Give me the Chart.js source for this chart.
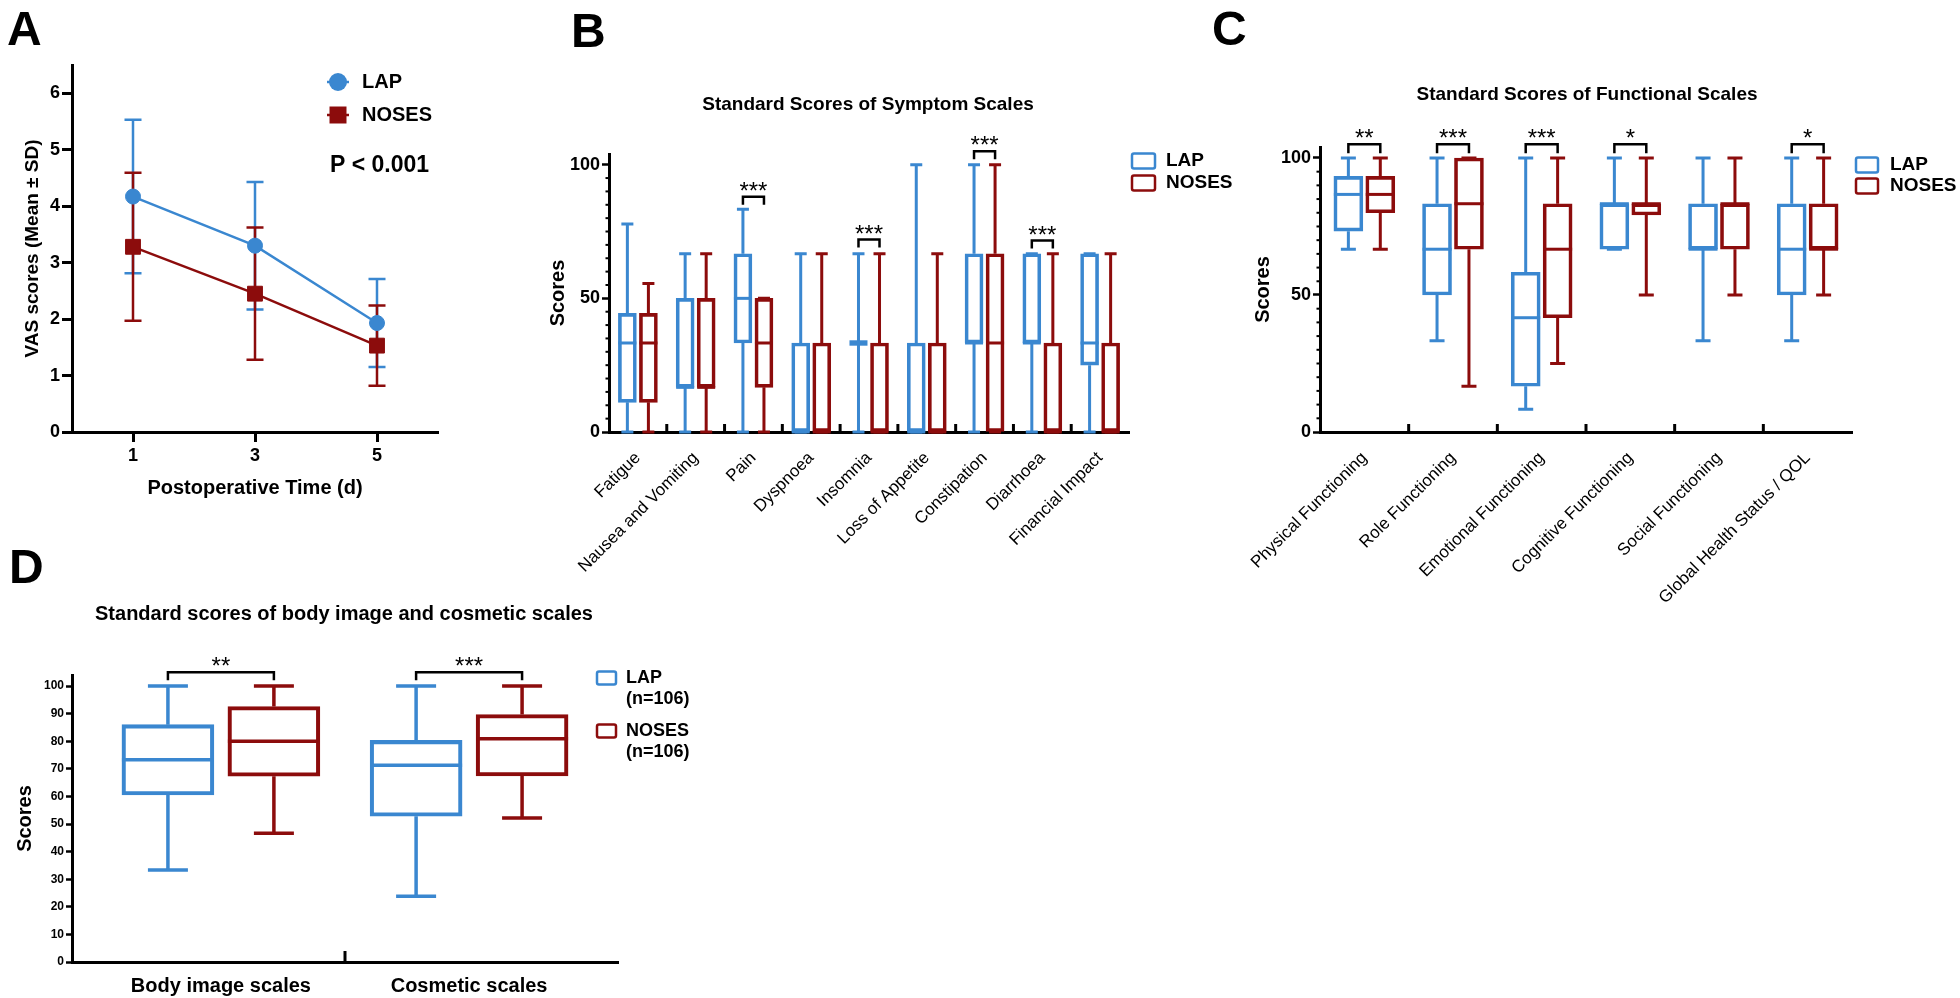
<!DOCTYPE html>
<html>
<head>
<meta charset="utf-8">
<script src="https://cdn.jsdelivr.net/npm/chart.js@4.4.1/dist/chart.umd.min.js"></script>
<style>
  html, body { margin: 0; padding: 0; background: #fff; }
  body { width: 1960px; height: 998px; position: relative; overflow: hidden; }
  canvas { position: absolute; }
</style>
</head>
<body>
<canvas id="chartA" width="480" height="510" style="left:0;top:0"></canvas>
<canvas id="chartB" width="800" height="640" style="left:480px;top:0"></canvas>
<canvas id="chartC" width="760" height="640" style="left:1200px;top:0"></canvas>
<canvas id="chartD" width="720" height="478" style="left:0;top:520px"></canvas>
<script>
// ---- Panel A: VAS scores (mean +/- SD) ----
const days = [1, 3, 5];
const lapVasMean = [4.17, 3.30, 1.93];
const lapVasSD = [1.36, 1.13, 0.78];
const nosesVasMean = [3.28, 2.45, 1.53];
const nosesVasSD = [1.31, 1.17, 0.71];

// ---- Panel B: symptom scales ----
const symptomScales = ['Fatigue', 'Nausea and Vomiting', 'Pain', 'Dyspnoea', 'Insomnia',
  'Loss of Appetite', 'Constipation', 'Diarrhoea', 'Financial Impact'];
const symLapMin = [0, 0, 0, 0, 0, 0, 0, 0, 0];
const symLapQ1 = [11.1, 16.7, 33.3, 0, 33.3, 0, 33.3, 33.3, 25];
const symLapMed = [33.3, 16.7, 50, 0, 33.3, 0, 33.3, 33.3, 33.3];
const symLapQ3 = [44.4, 50, 66.7, 33.3, 33.3, 33.3, 66.7, 66.7, 66.7];
const symLapMax = [77.8, 66.7, 83.3, 66.7, 66.7, 100, 100, 66.7, 66.7];
const symNosMin = [0, 0, 0, 0, 0, 0, 0, 0, 0];
const symNosQ1 = [11.1, 16.7, 16.7, 0, 0, 0, 0, 0, 0];
const symNosMed = [33.3, 16.7, 33.3, 0, 0, 0, 33.3, 0, 0];
const symNosQ3 = [44.4, 50, 50, 33.3, 33.3, 33.3, 66.7, 33.3, 33.3];
const symNosMax = [55.6, 66.7, 50, 66.7, 66.7, 66.7, 100, 66.7, 66.7];
const symSigIndex = [2, 4, 6, 7];
const symSigText = ['***', '***', '***', '***'];
const symSigValue = [88, 72, 105, 71.6];

// ---- Panel C: functional scales ----
const functionalScales = ['Physical Functioning', 'Role Functioning', 'Emotional Functioning',
  'Cognitive Functioning', 'Social Functioning', 'Global Health Status / QOL'];
const funLapMin = [66.7, 33.3, 8.3, 66.7, 33.3, 33.3];
const funLapQ1 = [73.3, 50, 16.7, 66.7, 66.7, 50];
const funLapMed = [86.7, 66.7, 41.7, 83.3, 66.7, 66.7];
const funLapQ3 = [93.3, 83.3, 58.3, 83.3, 83.3, 83.3];
const funLapMax = [100, 100, 100, 100, 100, 100];
const funNosMin = [66.7, 16.7, 25, 50, 50, 50];
const funNosQ1 = [80, 66.7, 41.7, 79.2, 66.7, 66.7];
const funNosMed = [86.7, 83.3, 66.7, 83.3, 83.3, 66.7];
const funNosQ3 = [93.3, 100, 83.3, 83.3, 83.3, 83.3];
const funNosMax = [100, 100, 100, 100, 100, 100];
const funSigIndex = [0, 1, 2, 3, 5];
const funSigText = ['**', '***', '***', '*', '*'];
const funSigValue = [105, 105, 105, 105, 105];

// ---- Panel D: body image and cosmetic scales ----
const bodyScales = ['Body image scales', 'Cosmetic scales'];
const bodyLapMin = [33.3, 23.8];
const bodyLapQ1 = [60.5, 52.8];
const bodyLapMed = [73.3, 71.3];
const bodyLapQ3 = [86, 80.3];
const bodyLapMax = [100, 100];
const bodyNosMin = [46.7, 52.2];
const bodyNosQ1 = [67.3, 67.4];
const bodyNosMed = [80, 80.9];
const bodyNosQ3 = [92.6, 89.7];
const bodyNosMax = [100, 100];
const bodySigIndex = [0, 1];
const bodySigText = ['**', '***'];
const bodySigValue = [105, 105];

const BLUE = '#3a87d0';
const RED = '#8c0c0c';
const FONT = "'Liberation Sans', Arial, Helvetica, sans-serif";

Chart.defaults.font.family = FONT;
Chart.defaults.color = '#000';
Chart.defaults.animation = false;
Chart.defaults.responsive = false;
Chart.defaults.devicePixelRatio = 1;
Chart.defaults.plugins.legend.display = false;
Chart.defaults.plugins.tooltip.enabled = false;

function font(size, bold) {
  return (bold ? 'bold ' : '') + size + 'px ' + FONT;
}

// letters, titles, notes and legends
const decorPlugin = {
  id: 'decor',
  afterDraw(chart, args, o) {
    const ctx = chart.ctx;
    ctx.save();
    ctx.fillStyle = '#000';
    if (o.letter) {
      ctx.font = font(48, true);
      ctx.textAlign = 'left';
      ctx.textBaseline = 'alphabetic';
      ctx.fillText(o.letter.text, o.letter.x, o.letter.y);
    }
    if (o.title) {
      ctx.font = font(o.title.size, true);
      ctx.textAlign = 'center';
      ctx.textBaseline = 'middle';
      ctx.fillText(o.title.text, o.title.x, o.title.y);
    }
    (o.notes || []).forEach(n => {
      ctx.font = font(n.size, true);
      ctx.textAlign = 'left';
      ctx.textBaseline = 'middle';
      ctx.fillText(n.text, n.x, n.y);
    });
    if (o.legend) {
      const lg = o.legend;
      chart.data.datasets.forEach((ds, i) => {
        const it = lg.items[i];
        ctx.strokeStyle = ds.borderColor;
        ctx.fillStyle = ds.borderColor;
        ctx.lineWidth = 2.5;
        if (lg.type === 'box') {
          ctx.beginPath();
          ctx.roundRect(lg.x, it.y - lg.h / 2, lg.w, lg.h, 2);
          ctx.stroke();
        } else {
          ctx.beginPath();
          ctx.moveTo(lg.x, it.y);
          ctx.lineTo(lg.x + lg.w, it.y);
          ctx.stroke();
          const cx = lg.x + lg.w / 2;
          ctx.beginPath();
          if (ds.pointStyle === 'rect') ctx.rect(cx - 8.5, it.y - 8.5, 17, 17);
          else ctx.arc(cx, it.y, 9, 0, Math.PI * 2);
          ctx.fill();
        }
        ctx.fillStyle = '#000';
        ctx.font = font(lg.size, true);
        ctx.textAlign = 'left';
        ctx.textBaseline = 'middle';
        const lines = [ds.label].concat(it.extra || []);
        lines.forEach((t, k) => ctx.fillText(t, lg.textX, it.y + k * lg.lineGap));
      });
    }
    ctx.restore();
  }
};

// error bars for panel A
const errorBarPlugin = {
  id: 'errorBars',
  beforeDatasetsDraw(chart, args, o) {
    const ctx = chart.ctx, xs = chart.scales.x, ys = chart.scales.y;
    ctx.save();
    ctx.lineWidth = o.lineWidth;
    chart.data.datasets.forEach(ds => {
      ctx.strokeStyle = ds.borderColor;
      ds.data.forEach((p, i) => {
        const x = xs.getPixelForValue(p.x);
        const yTop = ys.getPixelForValue(p.y + ds.sd[i]);
        const yBot = ys.getPixelForValue(p.y - ds.sd[i]);
        ctx.beginPath();
        ctx.moveTo(x, yTop); ctx.lineTo(x, yBot);
        ctx.moveTo(x - o.cap / 2, yTop); ctx.lineTo(x + o.cap / 2, yTop);
        ctx.moveTo(x - o.cap / 2, yBot); ctx.lineTo(x + o.cap / 2, yBot);
        ctx.stroke();
      });
    });
    ctx.restore();
  }
};

// whiskers, medians, dividers, minor ticks, significance brackets
const boxPlugin = {
  id: 'boxes',
  afterDatasetsDraw(chart, args, o) {
    const ctx = chart.ctx, xs = chart.scales.x, ys = chart.scales.y, area = chart.chartArea;
    ctx.save();
    chart.data.datasets.forEach((ds, di) => {
      const meta = chart.getDatasetMeta(di);
      ctx.strokeStyle = ds.borderColor;
      meta.data.forEach((bar, i) => {
        const q1 = ds.data[i].y[0], q3 = ds.data[i].y[1];
        const x = bar.x, half = bar.width / 2, cap = o.cap / 2;
        const yq1 = ys.getPixelForValue(q1), yq3 = ys.getPixelForValue(q3);
        const yLo = ys.getPixelForValue(ds.stats.lo[i]);
        const yHi = ys.getPixelForValue(ds.stats.hi[i]);
        const yMed = ys.getPixelForValue(ds.stats.med[i]);
        ctx.lineWidth = o.lineWidth;
        ctx.beginPath();
        ctx.moveTo(x, yq3); ctx.lineTo(x, yHi);
        ctx.moveTo(x - cap, yHi); ctx.lineTo(x + cap, yHi);
        ctx.moveTo(x, yq1); ctx.lineTo(x, yLo);
        ctx.moveTo(x - cap, yLo); ctx.lineTo(x + cap, yLo);
        ctx.stroke();
        // collapsed box: the two box edges and the median sit on one line
        ctx.lineWidth = q1 === q3 ? o.lineWidth * 1.8 : o.lineWidth;
        ctx.beginPath();
        ctx.moveTo(x - half, yMed); ctx.lineTo(x + half, yMed);
        ctx.stroke();
      });
    });

    ctx.strokeStyle = '#000';
    ctx.lineWidth = 3;
    const n = chart.data.datasets[0].data.length;
    for (let i = 0; i < n - 1; i++) {
      const x = xs.getPixelForValue(i + 0.5);
      ctx.beginPath();
      ctx.moveTo(x, area.bottom);
      ctx.lineTo(x, area.bottom - o.dividerLen);
      ctx.stroke();
    }

    if (o.minorStep) {
      ctx.lineWidth = 2;
      for (let v = 0; v <= 100; v += o.minorStep) {
        if (v % 50 === 0) continue;
        const y = ys.getPixelForValue(v);
        ctx.beginPath();
        ctx.moveTo(area.left - o.minorLen, y);
        ctx.lineTo(area.left, y);
        ctx.stroke();
      }
    }

    const sig = o.sig;
    const m0 = chart.getDatasetMeta(0), m1 = chart.getDatasetMeta(1);
    sig.index.forEach((idx, k) => {
      const x1 = m0.data[idx].x, x2 = m1.data[idx].x;
      const y = ys.getPixelForValue(sig.value[k]);
      ctx.strokeStyle = '#000';
      ctx.lineWidth = 2.5;
      ctx.beginPath();
      ctx.moveTo(x1, y + sig.leg);
      ctx.lineTo(x1, y);
      ctx.lineTo(x2, y);
      ctx.lineTo(x2, y + sig.leg);
      ctx.stroke();
      ctx.fillStyle = '#000';
      ctx.font = font(sig.size, false);
      ctx.textAlign = 'center';
      ctx.textBaseline = 'alphabetic';
      ctx.fillText(sig.text[k], (x1 + x2) / 2, y + sig.baseline);
    });
    ctx.restore();
  }
};

// ---------- Panel A ----------
new Chart(document.getElementById('chartA'), {
  type: 'line',
  data: {
    datasets: [
      {
        label: 'LAP',
        data: days.map((d, i) => ({ x: d, y: lapVasMean[i] })),
        sd: lapVasSD,
        borderColor: BLUE, backgroundColor: BLUE,
        borderWidth: 2.5, pointStyle: 'circle', pointRadius: 7.5,
        pointBorderWidth: 1, tension: 0
      },
      {
        label: 'NOSES',
        data: days.map((d, i) => ({ x: d, y: nosesVasMean[i] })),
        sd: nosesVasSD,
        borderColor: RED, backgroundColor: RED,
        borderWidth: 2.5, pointStyle: 'rect', pointRadius: 10.5,
        pointBorderWidth: 1, tension: 0
      }
    ]
  },
  options: {
    layout: { padding: { top: 65, right: 42, left: 0, bottom: 0 } },
    scales: {
      x: {
        type: 'linear', min: 0, max: 6,
        afterBuildTicks: s => { s.ticks = days.map(v => ({ value: v })); },
        afterFit: s => { s.height = 78; },
        border: { display: true, color: '#000', width: 3 },
        grid: { display: true, drawOnChartArea: false, tickLength: 10, tickWidth: 3, tickColor: '#000' },
        ticks: { font: { size: 18, weight: 'bold' }, padding: 3, maxRotation: 0 },
        title: {
          display: true, text: 'Postoperative Time (d)',
          font: { size: 20, weight: 'bold' }, padding: { top: 0, bottom: 10 }
        }
      },
      y: {
        min: 0, max: 6.5,
        ticks: { stepSize: 1, font: { size: 18, weight: 'bold' }, padding: 2 },
        afterBuildTicks: s => { s.ticks = s.ticks.filter(t => Number.isInteger(t.value)); },
        afterFit: s => { s.width = 72; },
        border: { display: true, color: '#000', width: 3 },
        grid: { display: true, drawOnChartArea: false, tickLength: 10, tickWidth: 3, tickColor: '#000' },
        title: {
          display: true, text: 'VAS scores (Mean \u00b1 SD)',
          font: { size: 19, weight: 'bold' }, padding: { top: 21, bottom: 0 }
        }
      }
    },
    plugins: {
      errorBars: { lineWidth: 2.5, cap: 17 },
      decor: {
        letter: { text: 'A', x: 7, y: 45 },
        notes: [{ text: 'P < 0.001', x: 330, y: 166, size: 23 }],
        legend: {
          type: 'line', x: 327, w: 22, textX: 362, size: 20, lineGap: 0,
          items: [{ y: 82 }, { y: 115 }]
        }
      }
    }
  },
  plugins: [errorBarPlugin, decorPlugin]
});

// ---------- box plot panels ----------
function boxDataset(label, color, cats, shift, s, width, lw) {
  return {
    label,
    data: cats.map((_, i) => ({ x: i + shift, y: [s.q1[i], s.q3[i]] })),
    stats: s,
    borderColor: color,
    backgroundColor: 'rgba(255,255,255,0)',
    borderWidth: lw,
    borderSkipped: false,
    grouped: false,
    barPercentage: 1,
    categoryPercentage: 1,
    maxBarThickness: width
  };
}

function boxChart(id, c) {
  return new Chart(document.getElementById(id), {
    type: 'bar',
    data: {
      datasets: [
        boxDataset('LAP', BLUE, c.cats, -c.shift, c.lap, c.width, c.lw),
        boxDataset('NOSES', RED, c.cats, c.shift, c.noses, c.width, c.lw)
      ]
    },
    options: {
      layout: { padding: c.padding },
      scales: {
        x: {
          type: 'linear', offset: false, min: c.xMin, max: c.xMax,
          afterBuildTicks: s => { s.ticks = c.cats.map((_, i) => ({ value: i })); },
          afterFit: s => { s.height = c.xHeight; },
          border: { display: true, color: '#000', width: 3 },
          grid: { display: false },
          ticks: {
            autoSkip: false, minRotation: c.rot, maxRotation: c.rot,
            padding: c.xPad, font: c.xFont, callback: v => c.cats[v]
          }
        },
        y: {
          min: 0, max: 104,
          ticks: { font: c.yFont, padding: 2 },
          afterBuildTicks: s => {
            const t = [];
            for (let v = 0; v <= 100; v += c.yStep) t.push({ value: v });
            s.ticks = t;
          },
          afterFit: s => { s.width = c.yWidth; },
          border: { display: true, color: '#000', width: 3 },
          grid: { display: true, drawOnChartArea: false, tickLength: c.tickLen, tickWidth: 2.5, tickColor: '#000' },
          title: {
            display: true, text: 'Scores',
            font: { size: 20, weight: 'bold' }, padding: { top: c.yTitlePad, bottom: 0 }
          }
        }
      },
      plugins: {
        boxes: {
          lineWidth: c.lw, cap: c.cap, dividerLen: c.dividerLen,
          minorStep: c.minorStep, minorLen: 3.5,
          sig: Object.assign({ leg: 8, size: 24, baseline: 2 }, c.sig)
        },
        decor: { letter: c.letter, title: c.title, legend: c.legend }
      }
    },
    plugins: [boxPlugin, decorPlugin]
  });
}

// ---------- Panel B ----------
boxChart('chartB', {
  cats: symptomScales,
  lap: { lo: symLapMin, q1: symLapQ1, med: symLapMed, q3: symLapQ3, hi: symLapMax },
  noses: { lo: symNosMin, q1: symNosQ1, med: symNosMed, q3: symNosQ3, hi: symNosMax },
  sig: { index: symSigIndex, text: symSigText, value: symSigValue },
  shift: 0.182, width: 18, lw: 3, cap: 12,
  padding: { top: 154, right: 151, left: 0, bottom: 0 },
  xMin: -0.5, xMax: 8.5, xHeight: 208, rot: 45, xPad: 8,
  xFont: { size: 17 },
  yStep: 50, yFont: { size: 18, weight: 'bold' }, yWidth: 129, tickLen: 7, yTitlePad: 66,
  minorStep: 5, dividerLen: 8,
  letter: { text: 'B', x: 91, y: 47 },
  title: { text: 'Standard Scores of Symptom Scales', x: 388, y: 105, size: 19 },
  legend: { type: 'box', x: 652, w: 23, h: 15, textX: 686, size: 19, lineGap: 0, items: [{ y: 161 }, { y: 183 }] }
});

// ---------- Panel C ----------
boxChart('chartC', {
  cats: functionalScales,
  lap: { lo: funLapMin, q1: funLapQ1, med: funLapMed, q3: funLapQ3, hi: funLapMax },
  noses: { lo: funNosMin, q1: funNosQ1, med: funNosMed, q3: funNosQ3, hi: funNosMax },
  sig: { index: funSigIndex, text: funSigText, value: funSigValue, leg: 9 },
  shift: 0.18, width: 29, lw: 3, cap: 15,
  padding: { top: 147, right: 108, left: 0, bottom: 0 },
  xMin: -0.5, xMax: 5.5, xHeight: 208, rot: 45, xPad: 8,
  xFont: { size: 17 },
  yStep: 50, yFont: { size: 18, weight: 'bold' }, yWidth: 120, tickLen: 7, yTitlePad: 51,
  minorStep: 5, dividerLen: 8,
  letter: { text: 'C', x: 12, y: 45 },
  title: { text: 'Standard Scores of Functional Scales', x: 387, y: 95, size: 19 },
  legend: { type: 'box', x: 656, w: 22, h: 15, textX: 690, size: 19, lineGap: 0, items: [{ y: 165 }, { y: 186 }] }
});

// ---------- Panel D ----------
boxChart('chartD', {
  cats: bodyScales,
  lap: { lo: bodyLapMin, q1: bodyLapQ1, med: bodyLapMed, q3: bodyLapQ3, hi: bodyLapMax },
  noses: { lo: bodyNosMin, q1: bodyNosQ1, med: bodyNosMed, q3: bodyNosQ3, hi: bodyNosMax },
  sig: { index: bodySigIndex, text: bodySigText, value: bodySigValue },
  shift: 0.2135, width: 92, lw: 3.5, cap: 40,
  padding: { top: 155, right: 102, left: 0, bottom: 0 },
  xMin: -0.6, xMax: 1.6, xHeight: 36, rot: 0, xPad: 4,
  xFont: { size: 20, weight: 'bold' },
  yStep: 10, yFont: { size: 12, weight: 'bold' }, yWidth: 72, tickLen: 6, yTitlePad: 13,
  minorStep: 0, dividerLen: 11,
  letter: { text: 'D', x: 9, y: 63 },
  title: { text: 'Standard scores of body image and cosmetic scales', x: 344, y: 94, size: 20 },
  legend: {
    type: 'box', x: 597, w: 19, h: 13, textX: 626, size: 18, lineGap: 21,
    items: [{ y: 158, extra: ['(n=106)'] }, { y: 211, extra: ['(n=106)'] }]
  }
});
</script>
</body>
</html>
